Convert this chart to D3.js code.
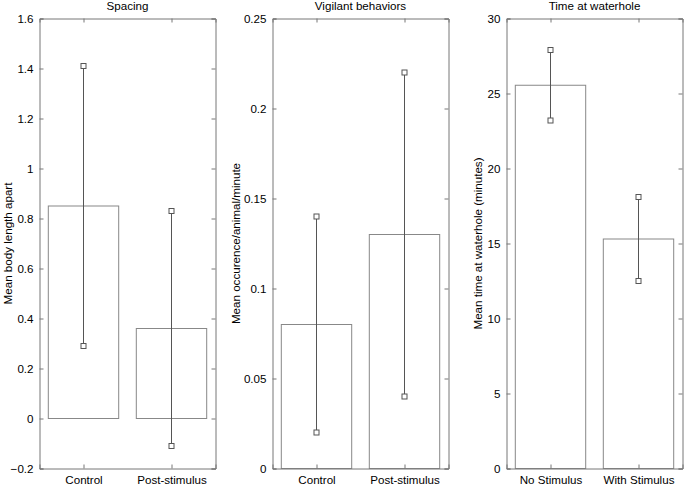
<!DOCTYPE html>
<html><head><meta charset="utf-8">
<script src="https://cdn.jsdelivr.net/npm/d3@7"></script>
<style>body{margin:0;background:#fff}svg{display:block}text{font-family:"Liberation Sans",Arial,sans-serif;fill:#000}</style>
</head><body>
<svg id="c" width="685" height="485"></svg>
<script>
// Panel 1: Spacing
const spacingCats = ["Control", "Post-stimulus"];
const spacingMeans = [0.85, 0.36];
const spacingLow = [0.29, -0.11];
const spacingHigh = [1.41, 0.83];
const spacingTicks = [-0.2, 0, 0.2, 0.4, 0.6, 0.8, 1, 1.2, 1.4, 1.6];
// Panel 2: Vigilant behaviors
const vigilCats = ["Control", "Post-stimulus"];
const vigilMeans = [0.08, 0.13];
const vigilLow = [0.02, 0.04];
const vigilHigh = [0.14, 0.22];
const vigilTicks = [0, 0.05, 0.1, 0.15, 0.2, 0.25];
// Panel 3: Time at waterhole
const timeCats = ["No Stimulus", "With Stimulus"];
const timeMeans = [25.55, 15.3];
const timeLow = [23.2, 12.5];
const timeHigh = [27.9, 18.1];
const timeTicks = [0, 5, 10, 15, 20, 25, 30];

const panels = [
  {title:"Spacing", ylabel:"Mean body length apart", cats:spacingCats, means:spacingMeans, lo:spacingLow, hi:spacingHigh, ticks:spacingTicks, dom:[-0.2,1.6], left:39.5, labX:8},
  {title:"Vigilant behaviors", ylabel:"Mean occurence/animal/minute", cats:vigilCats, means:vigilMeans, lo:vigilLow, hi:vigilHigh, ticks:vigilTicks, dom:[0,0.25], left:272.5, labX:236},
  {title:"Time at waterhole", ylabel:"Mean time at waterhole (minutes)", cats:timeCats, means:timeMeans, lo:timeLow, hi:timeHigh, ticks:timeTicks, dom:[0,30], left:506.5, labX:478}
];
const W = 176, plotTop = 18.5, plotBottom = 468.5;
const FS = 11.6;
const svg = d3.select("#c");
const axisCol = "#777", barCol = "#888", errCol = "#555";

panels.forEach(p => {
  const x = d3.scaleLinear().domain([0.5, 2.5]).range([p.left, p.left + W]);
  const y = d3.scaleLinear().domain(p.dom).range([plotBottom, plotTop]);
  const g = svg.append("g");
  const idx = [0, 1];
  // bars
  g.selectAll("rect.bar").data(idx).join("rect")
    .attr("x", i => x(i + 1 - 0.4)).attr("width", i => x(i + 1.4) - x(i + 0.6))
    .attr("y", i => y(Math.max(p.means[i], 0))).attr("height", i => Math.abs(y(p.means[i]) - y(0)))
    .attr("fill", "none").attr("stroke", barCol).attr("stroke-width", 1);
  // error lines
  g.selectAll("line.err").data(idx).join("line")
    .attr("x1", i => x(i + 1)).attr("x2", i => x(i + 1))
    .attr("y1", i => y(p.lo[i])).attr("y2", i => y(p.hi[i]))
    .attr("stroke", errCol).attr("stroke-width", 1);
  const ends = idx.flatMap(i => [{i, v:p.lo[i]}, {i, v:p.hi[i]}]);
  g.selectAll("rect.mk").data(ends).join("rect")
    .attr("x", d => x(d.i + 1) - 2.5).attr("y", d => y(d.v) - 2.5)
    .attr("width", 5).attr("height", 5)
    .attr("fill", "#fff").attr("stroke", errCol).attr("stroke-width", 1);
  // axes
  const yl = d3.axisLeft(y).tickValues(p.ticks).tickSize(-4).tickPadding(6).tickFormat(d => d3.format("")(+d.toFixed(2)));
  const yr = d3.axisRight(y).tickValues(p.ticks).tickSize(-4).tickFormat("");
  const xb = d3.axisBottom(x).tickValues([1, 2]).tickSize(-4).tickPadding(7).tickFormat(d => p.cats[d - 1]);
  const xt = d3.axisTop(x).tickValues([1, 2]).tickSize(-4).tickFormat("");
  [[yl, `translate(${p.left},0)`], [yr, `translate(${p.left + W},0)`], [xb, `translate(0,${plotBottom})`], [xt, `translate(0,${plotTop})`]].forEach(([ax, tr]) => {
    const a = g.append("g").attr("transform", tr).call(ax);
    a.select(".domain").attr("stroke", axisCol);
    a.selectAll(".tick line").attr("stroke", axisCol);
    a.selectAll("text").attr("font-size", FS).attr("fill", "#000").attr("font-family", "Liberation Sans, Arial, sans-serif");
  });
  g.append("text").attr("x", p.left + W / 2).attr("y", 10).attr("text-anchor", "middle").attr("font-size", FS).text(p.title);
  g.append("text").attr("transform", `translate(${p.labX},${(plotTop + plotBottom) / 2}) rotate(-90)`)
    .attr("text-anchor", "middle").attr("dy", "0.35em").attr("font-size", FS).text(p.ylabel);
});
</script>
</body></html>
